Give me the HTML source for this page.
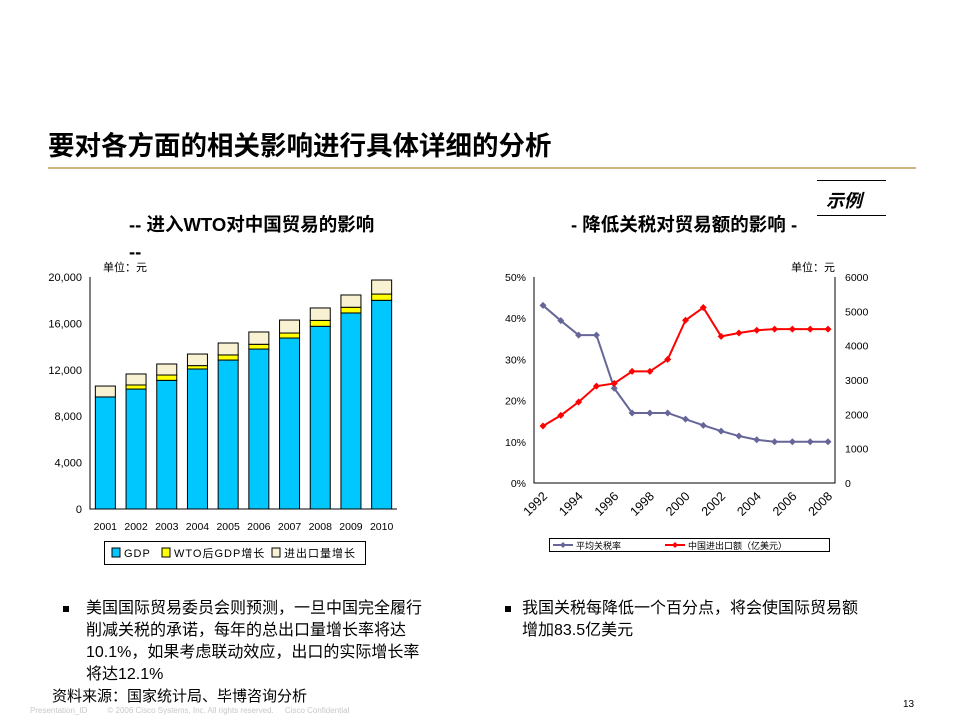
<!DOCTYPE html>
<html><head><meta charset="utf-8"><style>
body{margin:0;background:#fff;}
#page{position:relative;width:960px;height:720px;overflow:hidden;font-family:"Liberation Sans","Noto Sans CJK SC",sans-serif;color:#000;}
.abs{position:absolute;white-space:nowrap;}
</style></head><body>
<div id="page">
<div class="abs" style="left:48px;top:124px;font-size:26.5px;font-weight:bold;letter-spacing:0px;">要对各方面的相关影响进行具体详细的分析</div>
<div class="abs" style="left:48px;top:167px;width:868px;height:2px;background:#cdb681;"></div>
<div class="abs" style="left:817px;top:180px;width:69px;height:1px;background:#000;"></div>
<div class="abs" style="left:826px;top:187px;font-size:18px;font-weight:bold;font-style:italic;">示例</div>
<div class="abs" style="left:817px;top:215px;width:69px;height:1px;background:#000;"></div>
<div class="abs" style="left:129px;top:211px;font-size:18.5px;font-weight:bold;line-height:27px;">-- 进入WTO对中国贸易的影响<br>--</div>
<div class="abs" style="left:571px;top:211px;font-size:18.5px;font-weight:bold;">- 降低关税对贸易额的影响 -</div>
<div class="abs" style="left:103px;top:259px;font-size:11px;">单位：元</div>
<div class="abs" style="left:791px;top:259px;font-size:11px;">单位：元</div>

<svg id="charts" width="960" height="720" style="position:absolute;left:0;top:0;font-family:'Liberation Sans','Noto Sans CJK SC',sans-serif;"></svg>

<div class="abs" style="left:63px;top:606px;width:6px;height:6px;background:#000;"></div>
<div class="abs" style="left:86px;top:598px;font-size:16px;line-height:22px;">美国国际贸易委员会则预测，一旦中国完全履行<br>削减关税的承诺，每年的总出口量增长率将达<br>10.1%，如果考虑联动效应，出口的实际增长率<br>将达12.1%</div>
<div class="abs" style="left:505px;top:606px;width:6px;height:6px;background:#000;"></div>
<div class="abs" style="left:522px;top:598px;font-size:16px;line-height:22px;">我国关税每降低一个百分点，将会使国际贸易额<br>增加83.5亿美元</div>
<div class="abs" style="left:52px;top:685px;font-size:15px;">资料来源：国家统计局、毕博咨询分析</div>
<div class="abs" style="left:30px;top:706px;font-size:8px;color:#c8c8c8;">Presentation_ID &nbsp;&nbsp;&nbsp;&nbsp;&nbsp;&nbsp;&nbsp; © 2006 Cisco Systems, Inc. All rights reserved. &nbsp;&nbsp;&nbsp; Cisco Confidential</div>
<div class="abs" style="left:903px;top:699px;font-size:10px;">13</div>
</div>
<script>
const years = ["2001","2002","2003","2004","2005","2006","2007","2008","2009","2010"];
const gdp = [9660,10340,11090,12070,12840,13790,14740,15750,16900,17990];
const wtoGrowth = [0,350,460,290,440,410,430,510,490,540];
const tradeGrowth = [940,950,950,1000,1030,1060,1120,1070,1060,1210];
const leftTicks = [0,4000,8000,12000,16000,20000];
const leftTickLabels = ["0","4,000","8,000","12,000","16,000","20,000"];

const lineYears = ["1992","1993","1994","1995","1996","1997","1998","1999","2000","2001","2002","2003","2004","2005","2006","2007","2008"];
const tariff = [43.1,39.4,35.9,35.9,23,17,17,17,15.5,14,12.6,11.4,10.5,10,10,10,10];
const tradeVolume = [1660,1970,2360,2820,2900,3250,3250,3600,4740,5110,4270,4370,4450,4480,4480,4480,4480];
const pctTicks = [0,10,20,30,40,50];
const rightTicks = [0,1000,2000,3000,4000,5000,6000];

const svg = document.getElementById('charts');
const NS = 'http://www.w3.org/2000/svg';
function mk(tag, attrs, parent){const e=document.createElementNS(NS,tag);for(const k in attrs)e.setAttribute(k,attrs[k]);(parent||svg).appendChild(e);return e;}

const L = {x0:90,x1:397,y0:509,y1:277,max:20000};
const ly = v => L.y0 - v/L.max*(L.y0-L.y1);
const slot = (L.x1-L.x0)/years.length;
const lx = i => L.x0 + slot*i + slot/2;
const gL = mk('g',{});


leftTicks.forEach((t,i)=>{
  const tx=mk('text',{x:L.x0-8,y:ly(t)+4,'text-anchor':'end','font-size':11},gL);
  tx.textContent=leftTickLabels[i];
  
  
});
const bw=20;
years.forEach((yr,i)=>{
  const x=lx(i)-bw/2;
  const segs=[[gdp[i],'#00c8ff','gdp'],[wtoGrowth[i],'#ffff00','wto-growth'],[tradeGrowth[i],'#f8f2d2','trade-growth']];
  let base=0;
  segs.forEach(s=>{
    if(s[0]<=0){return;}
    const r=mk('rect',{x:x,y:ly(base+s[0]),width:bw,height:ly(base)-ly(base+s[0]),fill:s[1],stroke:'#000','stroke-width':1},gL);
    
    
    base+=s[0];
  });
  const tx=mk('text',{x:lx(i),y:530,'text-anchor':'middle','font-size':10.5},gL);
  tx.textContent=yr;
  
  
});
const lax=mk('path',{d:`M${L.x0},${L.y1}V${L.y0}H${L.x1}`,fill:'none',stroke:'#000','stroke-width':1},gL);


const lg=mk('g',{},gL);


mk('rect',{x:104.5,y:541.5,width:261,height:23,fill:'#fff',stroke:'#000'},lg);
[['GDP','#00c8ff',112],['WTO后GDP增长','#ffff00',162],['进出口量增长','#f8f2d2',272]].forEach(e=>{
  mk('rect',{x:e[2],y:548,width:8,height:9,fill:e[1],stroke:'#000'},lg);
  const t=mk('text',{x:e[2]+12,y:557,'font-size':11,'letter-spacing':'1'},lg);
  t.textContent=e[0];
  
  
});

const R={x0:534,x1:835,y0:483,y1:277};
const ry=v=>R.y0 - v/50*(R.y0-R.y1);
const ry2=v=>R.y0 - v/6000*(R.y0-R.y1);
const rx=i=>543 + i*(828-543)/(lineYears.length-1);
const gR=mk('g',{});


pctTicks.forEach(t=>{
  const tx=mk('text',{x:R.x0-8,y:ry(t)+4,'text-anchor':'end','font-size':10.5},gR);
  tx.textContent=t+'%';
  
  
});
rightTicks.forEach(t=>{
  const tx=mk('text',{x:R.x1+10,y:ry2(t)+4,'text-anchor':'start','font-size':10.5},gR);
  tx.textContent=String(t);
  
  
});
const rax=mk('path',{d:`M${R.x0},${R.y1}V${R.y0}H${R.x1}V${R.y1}`,fill:'none',stroke:'#000','stroke-width':1},gR);


lineYears.forEach((yr,i)=>{
  if(i%2) return;
  const x=rx(i)+5,y=497;
  const tx=mk('text',{x:x,y:y,'text-anchor':'end','font-size':12.5,transform:`rotate(-45 ${x} ${y})`},gR);
  tx.textContent=yr;
  
  
});
function series(vals,yf,color,name){
  const p=mk('polyline',{points:vals.map((v,i)=>rx(i)+','+yf(v)).join(' '),fill:'none',stroke:color,'stroke-width':2},gR);
  
  
  vals.forEach((v,i)=>{
    const x=rx(i),y=yf(v);
    const m=mk('path',{d:`M${x},${y-3.5}L${x+3.5},${y}L${x},${y+3.5}L${x-3.5},${y}Z`,fill:color},gR);
    
    
  });
}
series(tariff,ry,'#666699','tariff');
series(tradeVolume,ry2,'#ff0000','trade-volume');
const rg=mk('g',{},gR);


mk('rect',{x:549.5,y:538.5,width:280,height:13,fill:'#fff',stroke:'#000'},rg);
[['平均关税率','#666699',573],['中国进出口额（亿美元）','#ff0000',685]].forEach(e=>{
  mk('line',{x1:e[2]-20,y1:545,x2:e[2],y2:545,stroke:e[1],'stroke-width':2},rg);
  mk('path',{d:`M${e[2]-10},${542}L${e[2]-7},545L${e[2]-10},548L${e[2]-13},545Z`,fill:e[1]},rg);
  const t=mk('text',{x:e[2]+3,y:549,'font-size':9},rg);
  t.textContent=e[0];
  
  
});
</script>
</body></html>
